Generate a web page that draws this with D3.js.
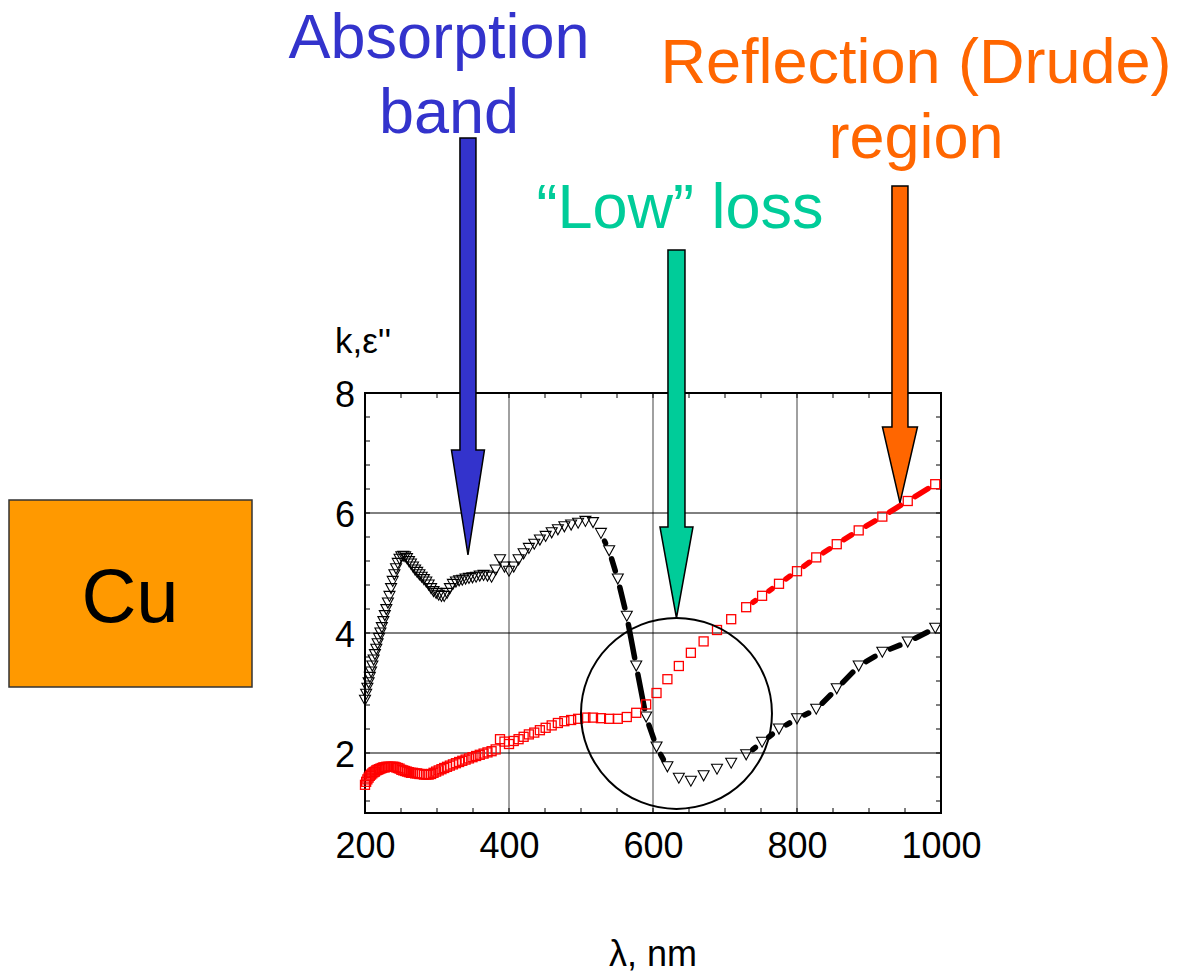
<!DOCTYPE html>
<html>
<head>
<meta charset="utf-8">
<script src="https://cdn.jsdelivr.net/npm/d3@7"></script>
<style>
  body { margin: 0; background: #fff; }
  text { font-family: "Liberation Sans", Arial, sans-serif; }
</style>
</head>
<body>
<div id="chart"></div>
<script>
// wavelength grid, nm
const wavelengths = [
  200.0, 201.6, 203.3, 205.0, 206.7, 208.4, 210.2, 212.0, 213.8, 215.7,
  217.5, 219.5, 221.4, 223.4, 225.5, 227.5, 229.6, 231.8, 234.0, 236.2,
  238.5, 240.8, 243.1, 245.5, 248.0, 250.5, 253.1, 255.7, 258.3, 261.1,
  263.8, 266.7, 269.6, 272.5, 275.6, 278.7, 281.8, 285.1, 288.4, 291.8,
  295.2, 298.8, 302.4, 306.2, 310.0, 313.9, 317.9, 322.1, 326.3, 330.7,
  335.1, 339.7, 344.4, 349.3, 354.3, 359.4, 364.7, 370.1, 375.8, 381.5,
  387.5, 393.7, 400.0, 406.6, 413.3, 420.3, 427.6, 435.1, 442.9, 450.9,
  459.3, 467.9, 476.9, 486.3, 496.0, 506.1, 516.7, 527.7, 539.1, 551.1,
  563.6, 576.7, 590.5, 604.9, 620.0, 635.9, 652.6, 670.3, 688.9, 708.6,
  729.4, 751.5, 775.0, 800.0, 826.7, 855.2, 885.7, 918.5, 953.8, 992.0
];

// black open triangles
const blackValues = [
  2.88, 2.98, 3.08, 3.17, 3.26, 3.35, 3.45, 3.55, 3.64, 3.73,
  3.82, 3.91, 4.00, 4.09, 4.19, 4.29, 4.39, 4.50, 4.61, 4.74,
  4.86, 4.97, 5.07, 5.16, 5.23, 5.27, 5.28, 5.27, 5.24, 5.19,
  5.15, 5.10, 5.05, 5.01, 4.97, 4.93, 4.89, 4.85, 4.80, 4.74,
  4.69, 4.66, 4.63, 4.61, 4.61, 4.66, 4.74, 4.81, 4.85, 4.87,
  4.88, 4.90, 4.91, 4.92, 4.93, 4.95, 4.96, 4.95, 4.93, 5.05,
  5.22, 5.10, 5.03, 5.10, 5.22, 5.32, 5.41, 5.48, 5.55, 5.61,
  5.67, 5.72, 5.77, 5.80, 5.83, 5.86, 5.84, 5.66, 5.37, 4.90,
  4.28, 3.45, 2.60, 2.10, 1.77, 1.58, 1.53, 1.62, 1.73, 1.83,
  1.97, 2.18, 2.40, 2.57, 2.73, 3.07, 3.45, 3.68, 3.85, 4.08
];

// red open squares
const redValues = [
  1.47, 1.52, 1.56, 1.59, 1.62, 1.64, 1.66, 1.68, 1.69, 1.71,
  1.72, 1.73, 1.74, 1.75, 1.76, 1.76, 1.77, 1.77, 1.77, 1.77,
  1.77, 1.77, 1.76, 1.75, 1.74, 1.72, 1.71, 1.70, 1.69, 1.68,
  1.67, 1.67, 1.66, 1.66, 1.65, 1.65, 1.64, 1.64, 1.64, 1.65,
  1.67, 1.69, 1.71, 1.73, 1.75, 1.77, 1.79, 1.81, 1.83, 1.85,
  1.87, 1.89, 1.91, 1.93, 1.95, 1.97, 1.99, 2.01, 2.03, 2.06,
  2.23, 2.19, 2.15, 2.20, 2.23, 2.27, 2.31, 2.34, 2.38, 2.42,
  2.46, 2.50, 2.53, 2.55, 2.57, 2.59, 2.59, 2.58, 2.57, 2.57,
  2.60, 2.67, 2.81, 3.00, 3.23, 3.45, 3.67, 3.86, 4.05, 4.23,
  4.43, 4.62, 4.82, 5.03, 5.26, 5.48, 5.71, 5.94, 6.20, 6.48
];

// wavelength ranges where the thick dashed trace shows between markers
const blackDashSpans = [[527.7, 620.0], [729.4, 992.0]];
const redDashSpans = [[729.4, 992.0]];

const xTickValues = [200, 400, 600, 800, 1000];
const yTickValues = [2, 4, 6, 8];
const xGrid = [400, 600, 800];
const yGrid = [2, 4, 6];

const width = 1177, height = 973;
const margin = {top: 393, right: 236, bottom: 160, left: 365};
const plotW = width - margin.left - margin.right;
const plotH = height - margin.top - margin.bottom;

const svg = d3.select("#chart").append("svg")
    .attr("width", width)
    .attr("height", height)
    .style("background", "#fff");

const g = svg.append("g")
    .attr("transform", `translate(${margin.left}, ${margin.top})`);

const x = d3.scaleLinear().domain([200, 1000]).range([0, plotW]);
const y = d3.scaleLinear().domain([1, 8]).range([plotH, 0]);

// grid
g.selectAll(".vgrid").data(xGrid).enter().append("line")
    .attr("x1", d => x(d)).attr("x2", d => x(d))
    .attr("y1", 0).attr("y2", plotH)
    .attr("stroke", "#808080").attr("stroke-width", 1.5);
g.selectAll(".hgrid").data(yGrid).enter().append("line")
    .attr("x1", 0).attr("x2", plotW)
    .attr("y1", d => y(d)).attr("y2", d => y(d))
    .attr("stroke", "#000").attr("stroke-width", 1);

// small inside ticks
const xMinor = d3.range(250, 1000, 50);
const yMinor = d3.range(1.2, 8.0, 0.4);
[0, plotH].forEach(yy => {
  g.selectAll(null).data(xMinor).enter().append("line")
    .attr("x1", d => x(d)).attr("x2", d => x(d))
    .attr("y1", yy).attr("y2", yy === 0 ? 5 : plotH - 5)
    .attr("stroke", "#000").attr("stroke-width", 1);
});
[0, plotW].forEach(xx => {
  g.selectAll(null).data(yMinor).enter().append("line")
    .attr("y1", d => y(d)).attr("y2", d => y(d))
    .attr("x1", xx).attr("x2", xx === 0 ? 5 : plotW - 5)
    .attr("stroke", "#000").attr("stroke-width", 1);
});

// frame
g.append("rect")
    .attr("width", plotW).attr("height", plotH)
    .attr("fill", "none").attr("stroke", "#000").attr("stroke-width", 2);

// tick labels through d3 axes
const xAxis = g.append("g")
    .attr("transform", `translate(0, ${plotH})`)
    .call(d3.axisBottom(x).tickValues(xTickValues).tickFormat(d3.format("d"))
      .tickSize(0).tickPadding(19));
const yAxis = g.append("g")
    .call(d3.axisLeft(y).tickValues(yTickValues).tickFormat(d3.format("d"))
      .tickSize(0).tickPadding(10));
[xAxis, yAxis].forEach(a => {
  a.select(".domain").remove();
  a.selectAll("text")
    .style("font-family", '"Liberation Sans", Arial, sans-serif')
    .style("font-size", "36px")
    .attr("fill", "#000");
});
yAxis.selectAll("text").attr("dy", "0.38em");

svg.append("text")
    .attr("x", 335).attr("y", 353)
    .style("font-size", "35px")
    .text("k,\u03b5''");
svg.append("text")
    .attr("x", 653).attr("y", 966)
    .attr("text-anchor", "middle")
    .style("font-size", "36px")
    .text("\u03bb, nm");

// series helpers
function dashSegments(values, spans, gap) {
  const segs = [];
  for (let i = 0; i < wavelengths.length - 1; i++) {
    const a = wavelengths[i], b = wavelengths[i + 1];
    if (!spans.some(s => a >= s[0] && b <= s[1])) continue;
    const x0 = x(a), y0 = y(values[i]), x1 = x(b), y1 = y(values[i + 1]);
    const len = Math.hypot(x1 - x0, y1 - y0);
    if (len <= 2 * gap) continue;
    const ux = (x1 - x0) / len, uy = (y1 - y0) / len;
    const l = Math.max(len - 2 * gap, 0.5);
    const sx = x0 + ux * gap, sy = y0 + uy * gap;
    segs.push({x1: sx, y1: sy, x2: sx + ux * l, y2: sy + uy * l});
  }
  return segs;
}

const blackPts = wavelengths.map((w, i) => ({w: w, v: blackValues[i]}));
const redPts = wavelengths.map((w, i) => ({w: w, v: redValues[i]}));

// black dashes + triangles
g.append("g").selectAll("line")
  .data(dashSegments(blackValues, blackDashSpans, 8.5))
  .enter().append("line")
    .attr("x1", d => d.x1).attr("y1", d => d.y1)
    .attr("x2", d => d.x2).attr("y2", d => d.y2)
    .attr("stroke", "#000").attr("stroke-width", 5.5)
    .attr("stroke-linecap", "round");

g.append("g").selectAll("path")
  .data(blackPts)
  .enter().append("path")
    .attr("d", d => {
      const cx = x(d.w), cy = y(d.v);
      return `M${cx - 5.5},${cy - 5}L${cx + 5.5},${cy - 5}L${cx},${cy + 5}Z`;
    })
    .attr("fill", "none")
    .attr("stroke", "#000")
    .attr("stroke-width", 1.1);

// red dashes + squares
g.append("g").selectAll("line")
  .data(dashSegments(redValues, redDashSpans, 8.5))
  .enter().append("line")
    .attr("x1", d => d.x1).attr("y1", d => d.y1)
    .attr("x2", d => d.x2).attr("y2", d => d.y2)
    .attr("stroke", "#ff0000").attr("stroke-width", 5.5)
    .attr("stroke-linecap", "round");

g.append("g").selectAll("rect")
  .data(redPts)
  .enter().append("rect")
    .attr("x", d => x(d.w) - 4.5)
    .attr("y", d => y(d.v) - 4.5)
    .attr("width", 9).attr("height", 9)
    .attr("fill", "none")
    .attr("stroke", "#ff0000")
    .attr("stroke-width", 1.3);

// "low loss" circle
g.append("circle")
    .attr("cx", x(632.6)).attr("cy", y(2.66))
    .attr("r", 95.5)
    .attr("fill", "none").attr("stroke", "#000").attr("stroke-width", 2);

// arrows: tip in data coordinates, top in page pixels
const arrows = [
  {tipW: 343, tipV: 5.30, top: 138, headTop: 450, shaft: 16, head: 33, color: "#3333cc"},
  {tipW: 632.6, tipV: 4.25, top: 250, headTop: 527, shaft: 17, head: 33, color: "#00cc99"},
  {tipW: 943, tipV: 6.17, top: 186, headTop: 427, shaft: 16, head: 35, color: "#ff6600"}
];
svg.selectAll(".arrow").data(arrows).enter().append("path")
    .attr("d", a => {
      const cx = margin.left + x(a.tipW), ty = margin.top + y(a.tipV);
      const s = a.shaft / 2, h = a.head / 2;
      return `M${cx - s},${a.top}L${cx + s},${a.top}L${cx + s},${a.headTop}` +
             `L${cx + h},${a.headTop}L${cx},${ty}L${cx - h},${a.headTop}` +
             `L${cx - s},${a.headTop}Z`;
    })
    .attr("fill", a => a.color)
    .attr("stroke", "#000")
    .attr("stroke-width", 1.5);

// annotation texts
const notes = [
  {t: "Absorption", x: 439, y: 58, c: "#3333cc"},
  {t: "band", x: 449, y: 133, c: "#3333cc"},
  {t: "Reflection (Drude)", x: 916, y: 83, c: "#ff6600"},
  {t: "region", x: 916, y: 158, c: "#ff6600"},
  {t: "\u201cLow\u201d loss", x: 680, y: 228, c: "#00cc99"}
];
svg.selectAll(".note").data(notes).enter().append("text")
    .attr("x", d => d.x).attr("y", d => d.y)
    .attr("text-anchor", "middle")
    .attr("fill", d => d.c)
    .style("font-size", "63px")
    .text(d => d.t);

// Cu box
svg.append("rect")
    .attr("x", 9).attr("y", 500).attr("width", 243).attr("height", 187)
    .attr("fill", "#ff9900").attr("stroke", "#333").attr("stroke-width", 1.5);
svg.append("text")
    .attr("x", 130).attr("y", 622)
    .attr("text-anchor", "middle")
    .style("font-size", "76px")
    .text("Cu");
</script>
</body>
</html>
